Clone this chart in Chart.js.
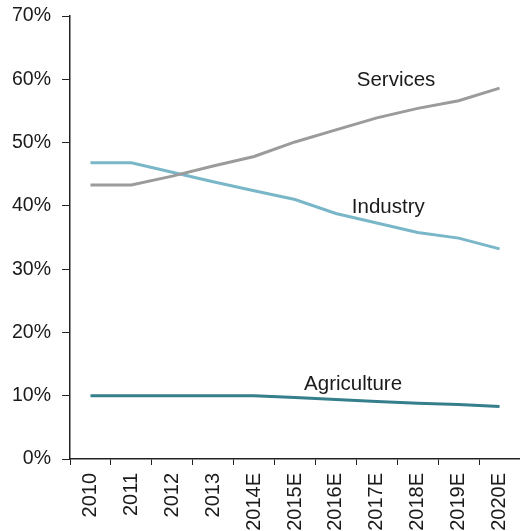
<!DOCTYPE html>
<html>
<head>
<meta charset="utf-8">
<script src="https://cdn.jsdelivr.net/npm/chart.js@4"></script>
<style>
html,body{margin:0;padding:0;background:#fff;overflow:hidden;}
#wrap{width:520px;height:531px;position:relative;}
</style>
</head>
<body>
<div id="wrap"><canvas id="c" width="520" height="531"></canvas></div>
<script>
const categories = ['2010','2011','2012','2013','2014E','2015E','2016E','2017E','2018E','2019E','2020E'];
const services = [43.3, 43.3, 44.7, 46.3, 47.8, 50.1, 52.0, 53.9, 55.4, 56.6, 58.6];
const industry = [46.8, 46.8, 45.3, 43.8, 42.4, 41.0, 38.8, 37.3, 35.8, 34.9, 33.2];
const agriculture = [10.0, 10.0, 10.0, 10.0, 10.0, 9.7, 9.4, 9.1, 8.8, 8.6, 8.3];
const seriesNames = ['Services', 'Industry', 'Agriculture'];
// label anchor: [category index position, value %]
const labelAnchors = [[7.47, 59.9], [7.28, 39.8], [6.42, 11.8]];
const yTicks = [0, 10, 20, 30, 40, 50, 60, 70];

const colors = ['#9b9b9b', '#79b7c8', '#357f8c'];
const FONT = 'Liberation Sans, Arial, sans-serif';

const labelPlugin = {
  id: 'seriesLabels',
  afterDatasetsDraw(chart) {
    const ctx = chart.ctx;
    const xs = chart.scales.x, ys = chart.scales.y;
    ctx.save();
    ctx.font = '20.5px ' + FONT;
    ctx.fillStyle = '#1a1a1a';
    ctx.textAlign = 'center';
    ctx.textBaseline = 'middle';
    seriesNames.forEach((n, i) => {
      const [ix, v] = labelAnchors[i];
      const x0 = xs.getPixelForValue(Math.floor(ix));
      const x1 = xs.getPixelForValue(Math.floor(ix) + 1);
      const x = x0 + (x1 - x0) * (ix - Math.floor(ix));
      ctx.fillText(n, x, ys.getPixelForValue(v));
    });
    ctx.restore();
  }
};

new Chart(document.getElementById('c'), {
  type: 'line',
  data: {
    labels: categories,
    datasets: [services, industry, agriculture].map((d, i) => ({
      label: seriesNames[i],
      data: d,
      borderColor: colors[i],
      backgroundColor: colors[i],
      borderWidth: 3,
      pointRadius: 0,
      tension: 0,
      fill: false
    }))
  },
  options: {
    responsive: false,
    animation: false,
    layout: { padding: { top: 16, right: 0, left: 0, bottom: 0 } },
    plugins: { legend: { display: false }, tooltip: { enabled: false } },
    scales: {
      x: {
        type: 'category',
        offset: true,
        grid: { display: true, drawOnChartArea: false, drawTicks: true, tickLength: 6, color: '#222', offset: true },
        border: { display: true, color: '#222', width: 1.5 },
        ticks: { minRotation: 90, maxRotation: 90, autoSkip: false, padding: 8, color: '#1a1a1a', font: { family: FONT, size: 20 } },
        afterFit(s) { s.height = 72; s.paddingLeft = 0; s.paddingRight = 0; }
      },
      y: {
        min: 0, max: 70,
        afterBuildTicks(s) { s.ticks = yTicks.map(v => ({ value: v })); },
        grid: { display: true, drawOnChartArea: false, drawTicks: true, tickLength: 8, color: '#222' },
        border: { display: true, color: '#222', width: 1.5 },
        ticks: { padding: 11, color: '#1a1a1a', font: { family: FONT, size: 19.5 }, callback: v => v + '%' },
        afterFit(s) { s.width = 70; s.paddingTop = 0; s.paddingBottom = 0; }
      }
    }
  },
  plugins: [labelPlugin]
});
</script>
</body>
</html>
